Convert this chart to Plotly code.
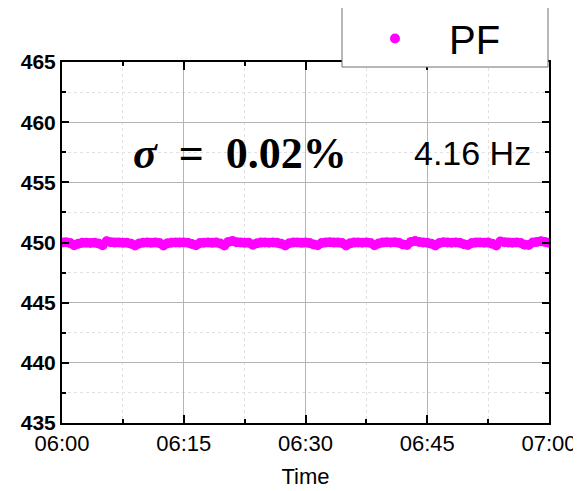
import plotly.graph_objects as go
import pandas as pd

minutes = [i * 0.5 for i in range(121)]
pf_values = [
    450.00, 450.02, 449.95, 449.78, 449.90, 449.97, 449.98, 449.96, 449.98, 449.92,
    449.78, 450.10, 450.02, 449.99, 450.00, 449.97, 449.98, 449.90, 449.76, 449.92,
    449.98, 450.00, 449.97, 450.00, 449.95, 449.76, 449.93, 449.98, 450.01, 449.99,
    450.00, 449.98, 449.88, 449.78, 449.95, 449.98, 450.00, 449.97, 449.99, 449.92,
    449.76, 450.05, 450.12, 450.03, 450.00, 449.97, 449.98, 449.82, 449.93, 449.99,
    450.00, 449.98, 450.00, 449.97, 449.90, 449.76, 449.94, 449.99, 450.00, 449.97,
    449.99, 449.95, 449.84, 449.77, 449.95, 450.00, 450.02, 449.99, 450.00, 449.95,
    449.75, 449.93, 449.99, 450.00, 449.98, 450.01, 449.96, 449.78, 449.92, 449.99,
    450.02, 450.00, 450.03, 449.97, 449.84, 449.80, 450.05, 450.12, 450.04, 450.00,
    449.98, 449.90, 449.75, 449.95, 450.02, 450.00, 449.98, 450.00, 449.97, 449.85,
    449.80, 449.95, 449.99, 450.00, 449.98, 449.99, 449.90, 449.75, 450.08, 450.03,
    450.00, 449.98, 450.00, 449.96, 449.82, 449.80, 450.00, 450.05, 450.10, 450.04,
    449.98,
]
start = pd.Timestamp("2024-01-01 06:00:00")
times = [start + pd.Timedelta(minutes=m) for m in minutes]

x_range = ["2024-01-01 06:00:00", "2024-01-01 07:00:00"]
y_range = [435, 465]
series_name = "PF"
sigma_text = "<i>σ</i>&nbsp;&nbsp;=&nbsp;&nbsp;0.02%"
freq_text = "4.16 Hz"
x_title = "Time"

# plot area in window pixels: x 62..549, y 62..423 (page body has an 8px margin)
OFF = 8
W, H = 581 - OFF, 491 - OFF
L, R, T, B = 62 - OFF, 581 - 549, 62 - OFF, 491 - 423
PW, PH = 549 - 62, 423 - 62


def px(x):
    return (x - 62) / PW


def py(y):
    return (423 - y) / PH


fig = go.Figure()
fig.add_trace(go.Scatter(
    x=times, y=pf_values, mode="markers", name=series_name,
    marker=dict(color="#FF00FF", size=10, line=dict(width=0)),
    showlegend=True,
))

fig.update_layout(
    width=W, height=H,
    margin=dict(l=L, r=R, t=T, b=B, autoexpand=False),
    paper_bgcolor="white", plot_bgcolor="white",
    showlegend=True,
    legend=dict(
        x=px(341), xanchor="left", y=py(6), yanchor="top",
        bgcolor="rgba(0,0,0,0)", borderwidth=0,
        font=dict(family="Liberation Sans, Arial", size=40, color="black"),
        itemwidth=98,
    ),
    xaxis=dict(
        type="date", range=x_range,
        dtick=15 * 60 * 1000, tickformat="%H:%M",
        tickfont=dict(family="Liberation Sans, Arial", size=22, color="black"),
        title=dict(text=x_title, font=dict(family="Liberation Sans, Arial", size=22, color="black"), standoff=13),
        showline=True, linecolor="black", linewidth=2, mirror="ticks",
        ticks="inside", ticklen=8, tickwidth=1.5, tickcolor="black",
        showgrid=True, gridcolor="#b4b4b4", gridwidth=1,
        minor=dict(dtick=7.5 * 60 * 1000, ticks="inside", ticklen=4, tickcolor="black",
                   showgrid=True, gridcolor="#e0e0e0", griddash="dot"),
        zeroline=False,
    ),
    yaxis=dict(
        range=y_range, dtick=5,
        tickfont=dict(family="Liberation Sans, Arial", size=21, color="black", weight="bold"),
        showline=True, linecolor="black", linewidth=2, mirror="ticks",
        ticks="inside", ticklen=7, tickwidth=1.5, tickcolor="black",
        showgrid=True, gridcolor="#b4b4b4", gridwidth=1,
        minor=dict(dtick=2.5, ticks="inside", ticklen=4, tickcolor="black",
                   showgrid=True, gridcolor="#e0e0e0", griddash="dot"),
        zeroline=False,
    ),
    shapes=[dict(
        type="rect", xref="paper", yref="paper", layer="above",
        x0=px(342), x1=px(548), y0=py(67), y1=py(7),
        fillcolor="white", line=dict(color="#707070", width=1),
    )],
)

fig.add_annotation(
    xref="paper", yref="paper", x=px(240), y=py(153),
    xanchor="center", yanchor="middle",
    text="<b>" + sigma_text + "</b>", showarrow=False,
    font=dict(family="Liberation Serif, Times New Roman", size=44, color="black"),
)
fig.add_annotation(
    xref="paper", yref="paper", x=px(472), y=py(153),
    xanchor="center", yanchor="middle",
    text=freq_text, showarrow=False,
    font=dict(family="Liberation Sans, Arial", size=34, color="black"),
)

fig.write_html("out.html")
